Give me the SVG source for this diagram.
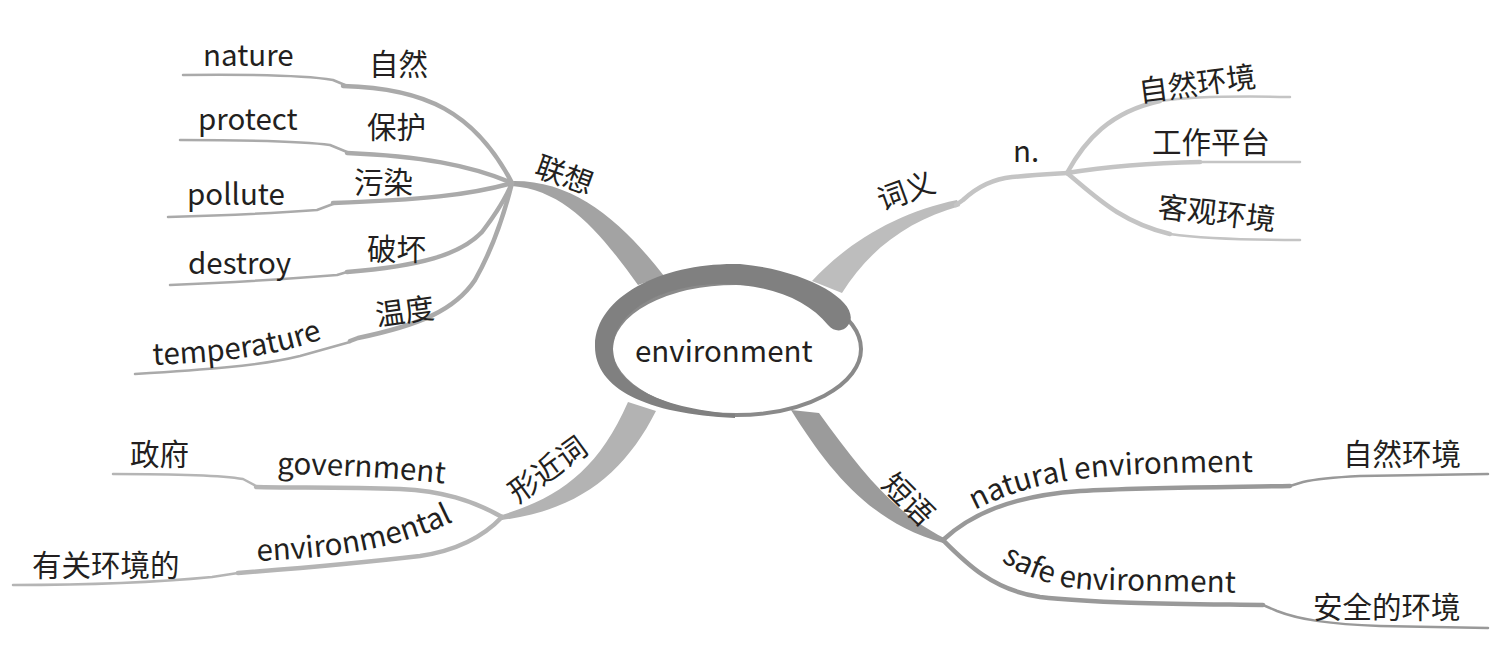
<svg xmlns="http://www.w3.org/2000/svg" width="1503" height="649" viewBox="0 0 1503 649">
<style>
text{font-family:"Noto Sans CJK SC","Noto Sans",sans-serif;fill:#231f20}
.lat{font-size:29.5px}
.cjk{font-size:29.5px}
.line{fill:none;stroke-linecap:round;stroke-linejoin:round}
.a{stroke:#aaaaaa}
.b{stroke:#c4c4c4}
.c{stroke:#b5b5b5}
.d{stroke:#999999}
.near{stroke-width:4.5}
.far{stroke-width:2.5}
</style>
<defs>
<path id="p-temp" d="M153,365 C220,362 280,357 332,335 L350,327"/>
<path id="p-envl" d="M257,561 C330,558 400,550 460,518 L480,505"/>
<path id="p-gov" d="M277,474 C340,475 400,478 450,484 L490,490"/>
<path id="p-nat" d="M975,510 C1010,492 1050,480 1110,476 C1170,472 1220,472 1300,472"/>
<path id="p-safe" d="M1001,561 C1030,580 1060,589 1100,590 C1160,591 1210,592 1290,594"/>
</defs>
<rect width="1503" height="649" fill="#ffffff"/>
<g id="connectors">
  <path fill="#a3a3a3" d="M512,181 C575,180 622,222 664,276 L638,285 C600,232 565,190 512,186 Z"/>
  <path fill="#bdbdbd" d="M812,281 C850,240 900,212 957,200 L960,206 C910,220 870,248 842,293 Z"/>
  <path fill="#b3b3b3" d="M502,515 C560,497 598,470 628,402 L656,411 C625,472 580,510 502,520 Z"/>
  <path fill="#9b9b9b" d="M791,410 C830,472 870,522 943,543 L944,538 C893,512 862,472 819,413 Z"/>
  <path class="line a far" d="M183,75 C270,74 315,77 333,80 L345,85"/>
  <path class="line a near" d="M343,86 C425,88 475,112 512,183"/>
  <path class="line a far" d="M180,140 C260,140 310,142 330,145 L347,152"/>
  <path class="line a near" d="M347,153 C420,156 470,165 512,183"/>
  <path class="line a far" d="M168,217 C240,215 290,212 317,210 L333,204"/>
  <path class="line a near" d="M333,203 C420,200 470,195 512,183"/>
  <path class="line a far" d="M170,285 C240,282 300,278 337,275 L347,272"/>
  <path class="line a near" d="M347,272 C420,266 460,255 482,232 C495,215 505,200 512,183"/>
  <path class="line a far" d="M135,374 C200,370 260,366 300,356 L350,342"/>
  <path class="line a near" d="M350,341 L358,338 C420,325 455,310 475,280 C492,250 504,215 512,183"/>
  <path class="line b near" d="M956,205 L963,200 C977,187 992,179 1012,177 C1035,175 1052,174 1067,173"/>
  <path class="line b near" d="M1067,173 C1085,140 1110,112 1160,101"/>
  <path class="line b far" d="M1160,101 C1195,96 1240,96 1290,97"/>
  <path class="line b near" d="M1067,173 C1110,166 1150,163 1200,162"/>
  <path class="line b far" d="M1200,162 L1300,162"/>
  <path class="line b near" d="M1067,173 C1095,196 1120,222 1170,234"/>
  <path class="line b far" d="M1170,234 C1205,239 1250,240 1300,240"/>
  <path class="line c near" d="M502,517 C472,500 442,491 400,489 C340,487 290,488 256,487"/>
  <path class="line c far" d="M256,486 L243,479 C225,476 180,474 113,474"/>
  <path class="line c near" d="M502,517 C485,535 460,550 420,556 C360,563 290,569 238,573"/>
  <path class="line c far" d="M238,573 L212,577 C150,583 80,585 13,585"/>
  <path class="line d near" d="M943,540 C970,515 1010,496 1080,491 C1150,487 1250,487 1290,486"/>
  <path class="line d far" d="M1290,486 L1303,482 C1320,478 1340,477 1360,476 L1488,474"/>
  <path class="line d near" d="M943,540 C965,562 992,590 1040,597 C1100,604 1200,604 1263,605"/>
  <path class="line d far" d="M1263,605 L1277,611 C1300,620 1330,624 1380,626 L1488,628"/>
</g>
<g id="center">
  <ellipse cx="736" cy="349" rx="125" ry="66" fill="#ffffff" stroke="#8a8a8a" stroke-width="4"/>
  <path fill="#808080" d="M850,322 C858,300 805,270 740,264 C665,262 596,295 595,345 C594,388 645,414 735,418 L735,414 C655,408 613,382 613,350 C613,312 660,285 720,284 C770,284 808,300 828,325 C836,334 846,331 850,322 Z"/>
  <text class="lat" x="635" y="362">environment</text>
</g>
<g id="n-lianxiang"><text class="cjk" transform="translate(533,175) rotate(20)">联想</text></g>
<g id="n-nature"><text class="lat" x="203" y="66">nature</text><text class="cjk" x="369" y="75">自然</text></g>
<g id="n-protect"><text class="lat" x="198" y="130">protect</text><text class="cjk" x="367" y="138">保护</text></g>
<g id="n-pollute"><text class="lat" x="187" y="205">pollute</text><text class="cjk" x="354" y="193">污染</text></g>
<g id="n-destroy"><text class="lat" x="188" y="274">destroy</text><text class="cjk" x="367" y="260">破坏</text></g>
<g id="n-temperature"><text class="lat"><textPath href="#p-temp">temperature</textPath></text><text class="cjk" transform="translate(377,326) rotate(-8)">温度</text></g>
<g id="n-ciyi"><text class="cjk" transform="translate(882,211) rotate(-20)">词义</text></g>
<g id="n-n"><text class="lat" x="1013" y="162">n.</text></g>
<g id="n-ziranhuanjing1"><text class="cjk" transform="translate(1140,102) rotate(-7.5)">自然环境</text></g>
<g id="n-gongzuo"><text class="cjk" x="1152" y="153">工作平台</text></g>
<g id="n-keguan"><text class="cjk" transform="translate(1157,217) rotate(6.5)">客观环境</text></g>
<g id="n-xingjinci"><text class="cjk" transform="translate(518,504) rotate(-36)">形近词</text></g>
<g id="n-government"><text class="lat"><textPath href="#p-gov">government</textPath></text><text class="cjk" x="130" y="465">政府</text></g>
<g id="n-environmental"><text class="lat"><textPath href="#p-envl">environmental</textPath></text><text class="cjk" x="32" y="576">有关环境的</text></g>
<g id="n-duanyu"><text class="cjk" transform="translate(880,486) rotate(45)">短语</text></g>
<g id="n-natural"><text class="lat"><textPath href="#p-nat">natural environment</textPath></text><text class="cjk" x="1343" y="465">自然环境</text></g>
<g id="n-safe"><text class="lat"><textPath href="#p-safe">safe environment</textPath></text><text class="cjk" x="1313" y="618">安全的环境</text></g>
</svg>
